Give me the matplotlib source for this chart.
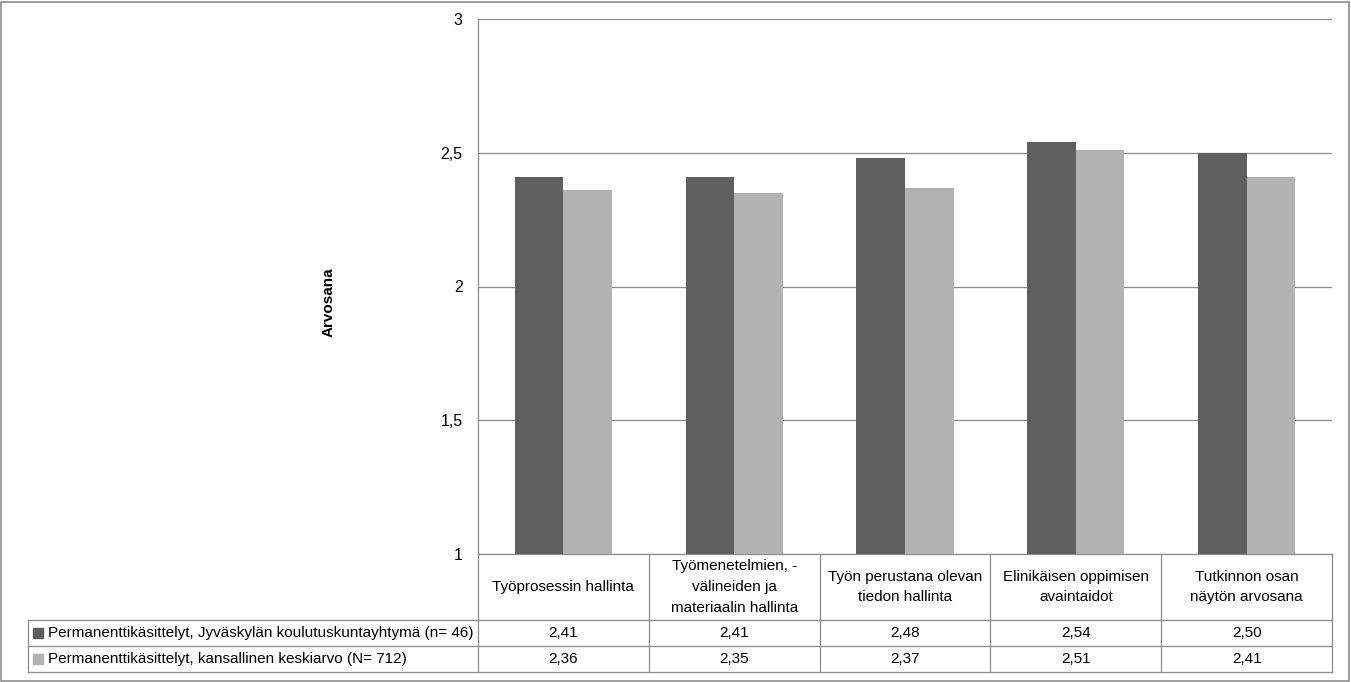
import matplotlib.pyplot as plt
import matplotlib.transforms as mtransforms
from matplotlib.patches import Rectangle
import numpy as np

plt.rcParams['font.family'] = ['Liberation Sans Narrow', 'Liberation Sans', 'DejaVu Sans']

# data
categories = ['Työprosessin hallinta',
              'Työmenetelmien, -\nvälineiden ja\nmateriaalin hallinta',
              'Työn perustana olevan\ntiedon hallinta',
              'Elinikäisen oppimisen\navaintaidot',
              'Tutkinnon osan\nnäytön arvosana']
series_names = ['Permanenttikäsittelyt, Jyväskylän koulutuskuntayhtymä (n= 46)',
                'Permanenttikäsittelyt, kansallinen keskiarvo (N= 712)']
jkl = [2.41, 2.41, 2.48, 2.54, 2.50]
national = [2.36, 2.35, 2.37, 2.51, 2.41]
yticks = [1, 1.5, 2, 2.5, 3]
ytick_labels = ['1', '1,5', '2', '2,5', '3']

colors = ['#5f5f5f', '#b2b2b2']
grid_col = '#8c8c8c'
fs = 11

fig = plt.figure(figsize=(13.51, 6.82), dpi=100)
ax = fig.add_axes([478 / 1351, 1 - 554 / 682, 854 / 1351, 535 / 682])

x = np.arange(len(categories))
w = 0.284
ax.bar(x - w / 2, jkl, w, color=colors[0], zorder=3)
ax.bar(x + w / 2, national, w, color=colors[1], zorder=3)

ax.set_xlim(-0.5, len(categories) - 0.5)
ax.set_ylim(1, 3)
ax.set_yticks(yticks)
ax.set_yticklabels(ytick_labels, fontsize=11.5)
ax.set_xticks([])
ax.tick_params(axis='y', length=0, pad=11)
ax.yaxis.grid(True, color=grid_col, linewidth=0.9, zorder=0)
for s in ['top', 'right', 'bottom']:
    ax.spines[s].set_visible(False)
ax.spines['left'].set_color(grid_col)
ax.spines['left'].set_linewidth(0.9)
ax.set_ylabel('Arvosana', fontsize=11, fontweight='bold')
ax.yaxis.set_label_coords(-0.167, 0.47)

# data table under the chart
trans = mtransforms.blended_transform_factory(ax.transData, ax.transAxes)
label_left = -0.5 - 450 / (854 / len(categories))
y_top = 0.0
y_head = -66 / 535
y_r1 = -92 / 535
y_r2 = -118 / 535
lkw = dict(color=grid_col, linewidth=0.9, transform=trans, clip_on=False)

# horizontal lines
ax.plot([-0.5, len(categories) - 0.5], [y_top, y_top], **lkw)
for yy in [y_head, y_r1, y_r2]:
    ax.plot([label_left, len(categories) - 0.5], [yy, yy], **lkw)
# vertical lines
for i in range(len(categories) + 1):
    ax.plot([i - 0.5, i - 0.5], [y_top, y_r2], **lkw)
ax.plot([label_left, label_left], [y_head, y_r2], **lkw)

for i, c in enumerate(categories):
    ax.text(i, (y_top + y_head) / 2, c, transform=trans, ha='center', va='center',
            fontsize=fs, linespacing=1.6, clip_on=False)
    ax.text(i, (y_head + y_r1) / 2, f'{jkl[i]:.2f}'.replace('.', ','), transform=trans,
            ha='center', va='center', fontsize=fs, clip_on=False)
    ax.text(i, (y_r1 + y_r2) / 2, f'{national[i]:.2f}'.replace('.', ','), transform=trans,
            ha='center', va='center', fontsize=fs, clip_on=False)

for k, (name, yc) in enumerate(zip(series_names, [(y_head + y_r1) / 2, (y_r1 + y_r2) / 2])):
    ax.plot([label_left + 0.06], [yc], marker='s', markersize=7, color=colors[k],
            transform=trans, clip_on=False, linestyle='none')
    ax.text(label_left + 0.115, yc, name, transform=trans, ha='left', va='center',
            fontsize=fs, clip_on=False)

# chart border
fig.patches.append(Rectangle((0.5 / 1351, 1.5 / 682), 1348 / 1351, 679 / 682,
                             transform=fig.transFigure, fill=False,
                             edgecolor='#8c8c8c', linewidth=1.2))

fig.savefig('out.png', dpi=100)
